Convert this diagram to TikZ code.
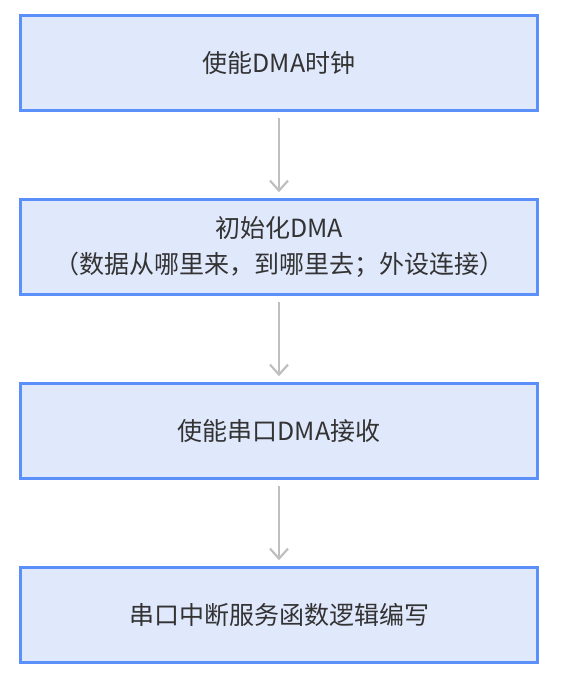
\documentclass[tikz,border=0pt]{standalone}
\usepackage{fontspec}
\setmainfont{Noto Sans CJK SC}
\usepackage{xcolor}
\usetikzlibrary{positioning, arrows.meta}
\definecolor{boxfill}{HTML}{E0E8FC}
\definecolor{boxline}{HTML}{5B8FF9}
\definecolor{arrowgray}{HTML}{BFBFBF}
\definecolor{textgray}{HTML}{333333}

\begin{document}
\begin{tikzpicture}[
		x=1pt, y=-1pt,
		step box/.style={rectangle, draw=boxline, fill=boxfill, line width=2.5pt,
			minimum width=517pt, minimum height=95pt, align=center,
			text=textgray, font=\fontsize{25}{36}\selectfont},
		flow/.style={draw=arrowgray, line width=2.2pt,
			-{Straight Barb[length=10pt, width=18pt, line width=2.2pt]},
			shorten <=6pt, shorten >=6pt}]
		\useasboundingbox (0,0) rectangle (565,677);
		\node[step box] (1) at (279,63)  {使能DMA时钟};
		\node[step box] (2) at (279,247) {初始化DMA\\（数据从哪里来，到哪里去；外设连接）};
		\node[step box] (3) at (279,431) {使能串口DMA接收};
		\node[step box] (4) at (279,615) {串口中断服务函数逻辑编写};
		\draw[flow] (1) -- (2);
		\draw[flow] (2) -- (3);
		\draw[flow] (3) -- (4);
	\end{tikzpicture}
\end{document}
